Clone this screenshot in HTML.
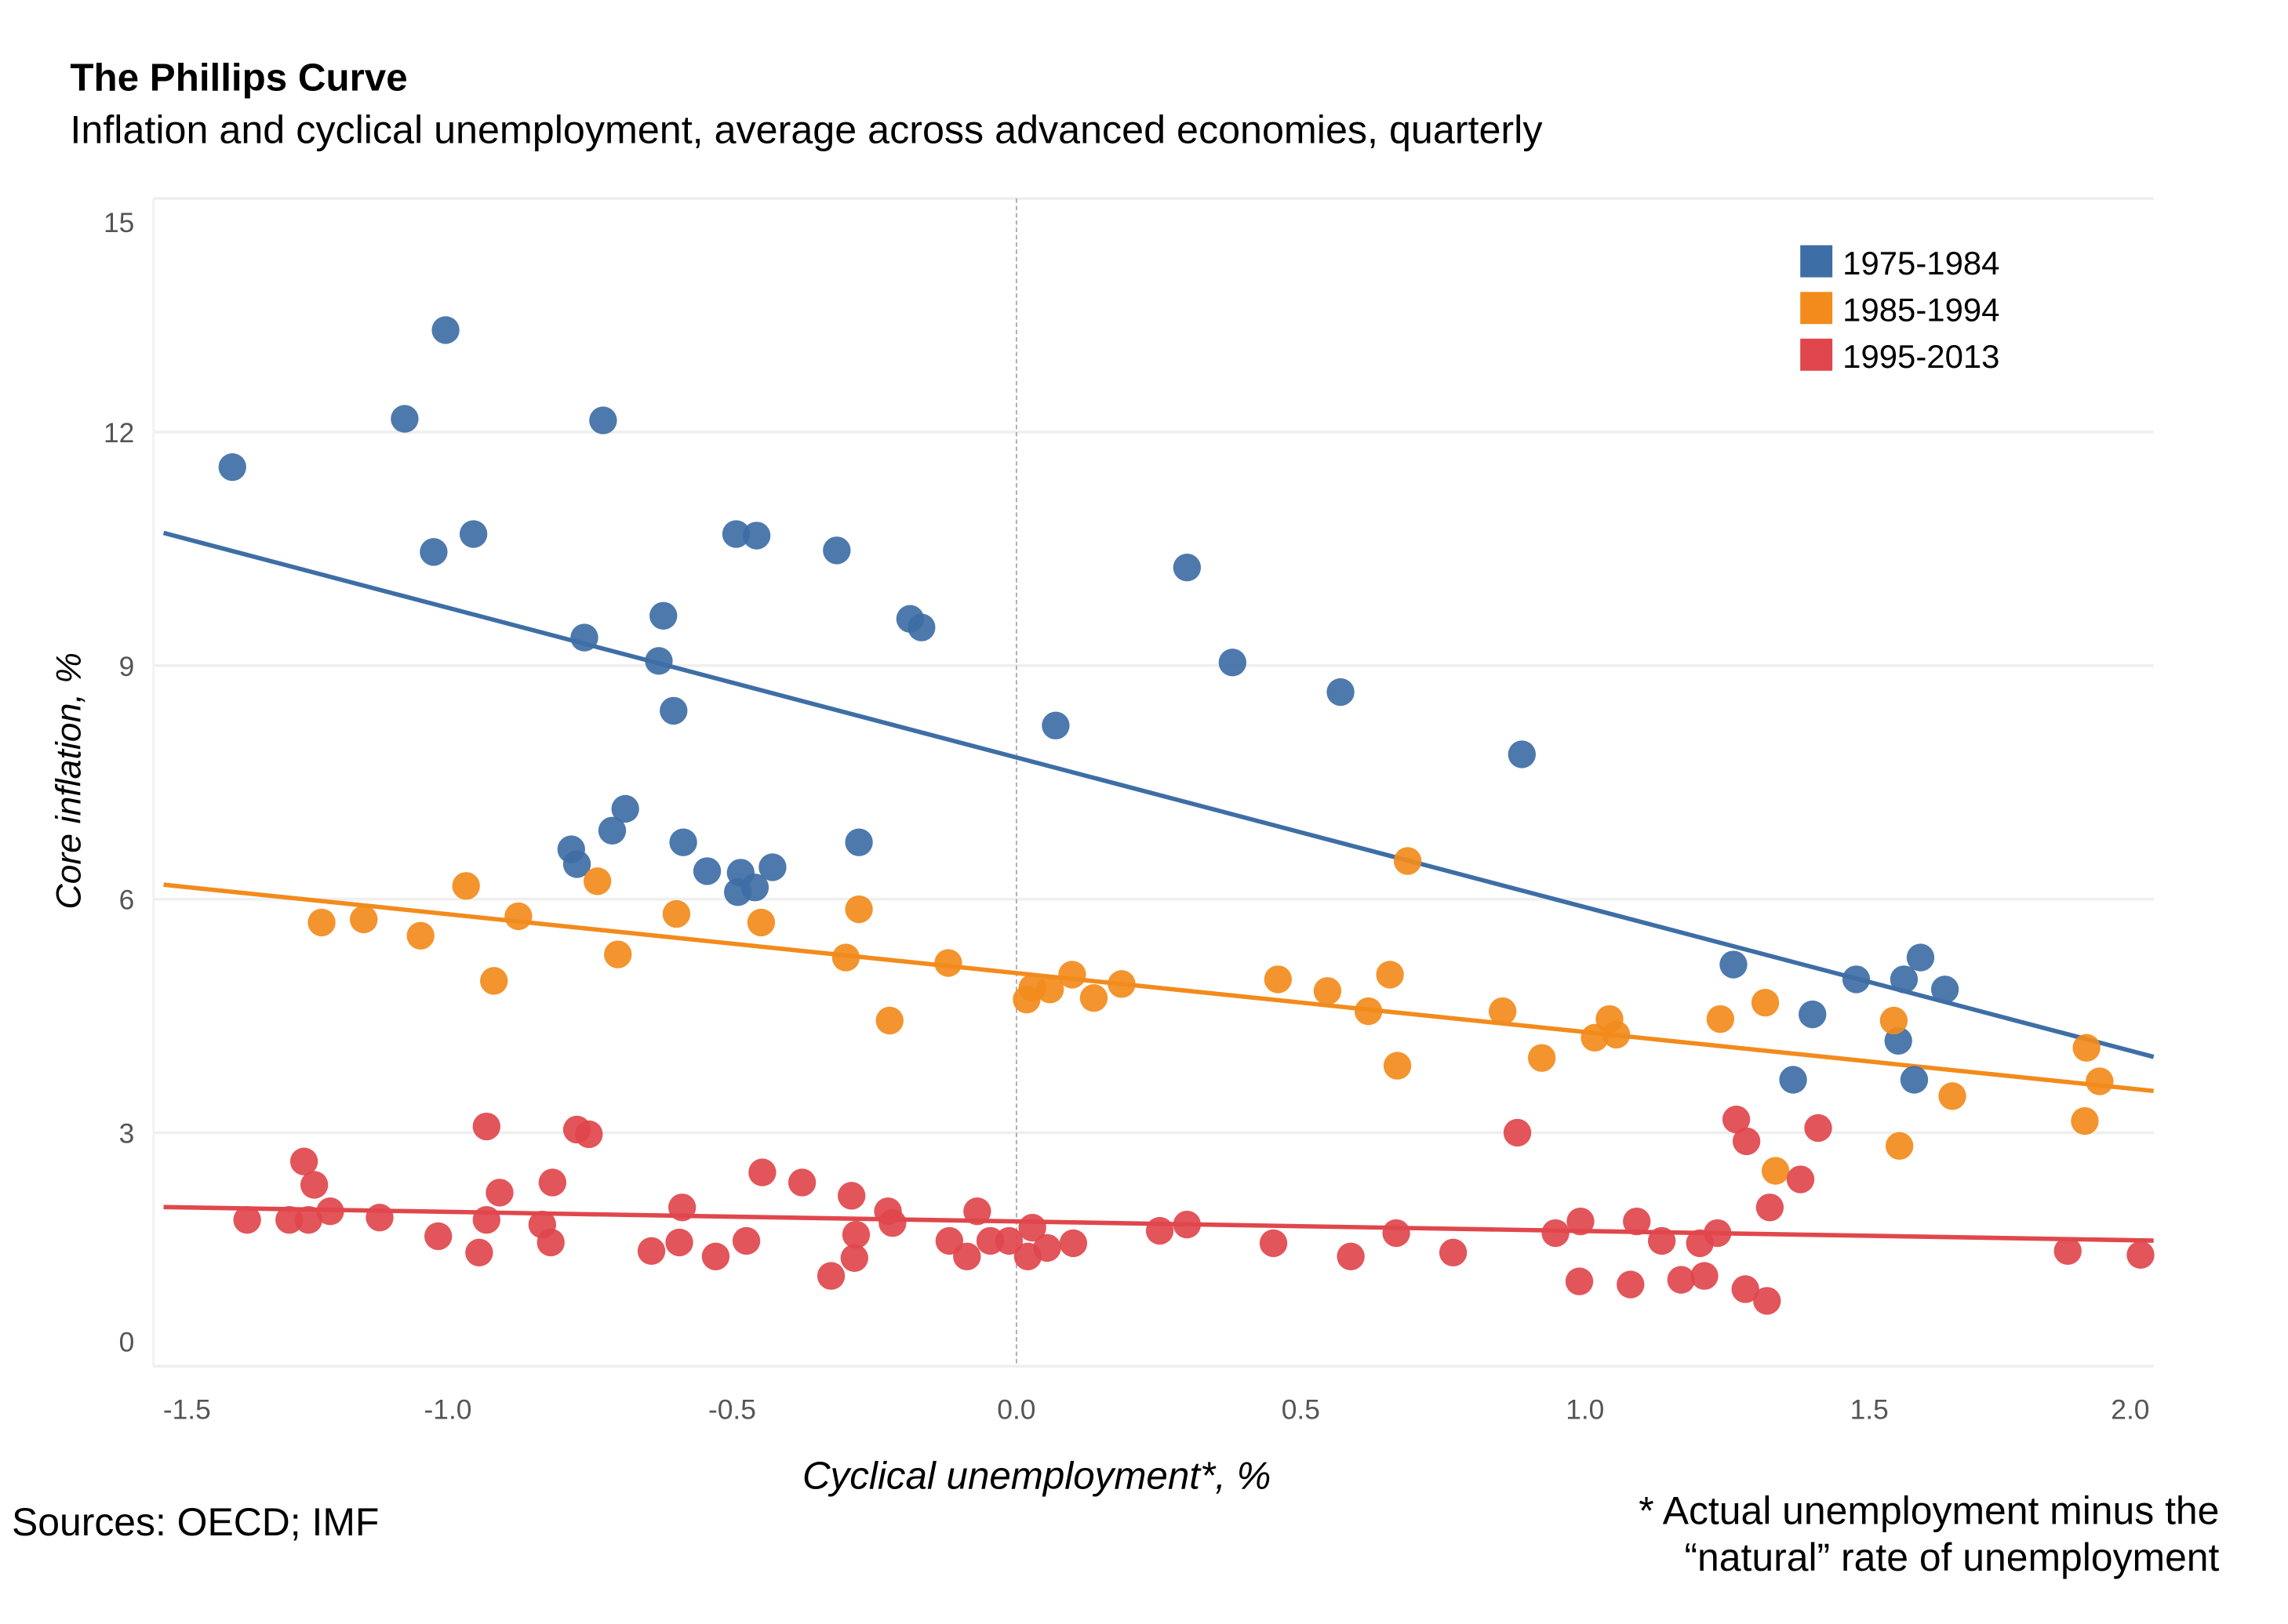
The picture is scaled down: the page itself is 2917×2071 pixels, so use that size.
<!DOCTYPE html>
<html><head><meta charset="utf-8">
<style>
html,body{margin:0;padding:0;background:#fff;}
svg{display:block;}
text{font-family:"Liberation Sans",sans-serif;}
</style></head>
<body>
<svg id="chart" width="2917" height="2071" viewBox="0 0 1567 1112.6" xmlns="http://www.w3.org/2000/svg">
  <rect x="0" y="0" width="1567" height="1112.6" fill="#fff"/>
  <text x="48" y="62" font-size="26.5" font-weight="bold" fill="#000">The Phillips Curve</text>
  <text x="48" y="98" font-size="27" fill="#000">Inflation and cyclical unemployment, average across advanced economies, quarterly</text>
  <g id="grid"></g>
  <g id="axes"></g>
  <g id="fits"></g>
  <g id="points"></g>
  <g id="legend"></g>
  <text x="55" y="535" font-size="24" font-style="italic" fill="#000" text-anchor="middle" transform="rotate(-90 55 535)">Core inflation, %</text>
  <text x="710" y="1020" font-size="26.5" font-style="italic" fill="#000" text-anchor="middle">Cyclical unemployment*, %</text>
  <text x="8" y="1052" font-size="26.8" fill="#000">Sources: OECD; IMF</text>
  <text x="1520" y="1044" font-size="26.8" fill="#000" text-anchor="end">* Actual unemployment minus the</text>
  <text x="1520" y="1076" font-size="26.8" fill="#000" text-anchor="end">“natural” rate of unemployment</text>
</svg>
<script>
const seriesNames = ["1975-1984","1985-1994","1995-2013"];
const seriesColors = ["#3e6ea6","#f28b1c","#e0474c"];
const xTicks = [-1.5,-1.0,-0.5,0.0,0.5,1.0,1.5,2.0];
const xTickLabels = ["-1.5","-1.0","-0.5","0.0","0.5","1.0","1.5","2.0"];
const yTicks = [0,3,6,9,12,15];
const yTickLabels = ["0","3","6","9","12","15"];
const fitSlopes = [-1.923,-0.757,-0.123];
const fitIntercepts = [7.82,5.05,1.86];
const blueX = [-1.379,-1.076,-1.004,-1.025,-0.955,-0.727,-0.760,-0.621,-0.629,-0.603,-0.493,-0.457,-0.316,-0.187,-0.167,-0.688,-0.711,-0.783,-0.773,-0.586,-0.544,-0.485,-0.490,-0.460,-0.429,-0.277,0.069,0.300,0.380,0.570,0.889,1.261,1.400,1.366,1.477,1.551,1.561,1.590,1.579,1.633];
const blueY = [11.55,12.17,13.31,10.46,10.69,12.15,9.36,9.64,9.06,8.42,10.69,10.67,10.48,9.60,9.49,7.16,6.88,6.64,6.45,6.73,6.36,6.34,6.09,6.15,6.41,6.73,8.23,10.26,9.04,8.66,7.86,5.16,4.52,3.68,4.97,4.18,4.97,5.25,3.68,4.84];
const orangeX = [-1.222,-1.148,-1.048,-0.968,-0.919,-0.876,-0.737,-0.701,-0.598,-0.449,-0.300,-0.277,-0.223,-0.120,0.018,0.028,0.059,0.098,0.136,0.185,0.460,0.547,0.619,0.657,0.670,0.688,0.855,0.924,1.017,1.043,1.055,1.238,1.317,1.335,1.543,1.553,1.646,1.882,1.879,1.905];
const orangeY = [5.70,5.74,5.53,6.17,4.95,5.78,6.23,5.29,5.81,5.70,5.25,5.87,4.44,5.18,4.71,4.86,4.84,5.03,4.73,4.91,4.97,4.82,4.56,5.03,3.86,6.49,4.56,3.96,4.22,4.46,4.26,4.46,4.67,2.51,4.44,2.83,3.47,4.09,3.15,3.66];
const redX = [-1.353,-1.253,-1.235,-1.279,-1.245,-1.207,-1.120,-1.017,-0.932,-0.932,-0.909,-0.945,-0.834,-0.819,-0.816,-0.773,-0.752,-0.642,-0.593,-0.588,-0.529,-0.475,-0.447,-0.377,-0.326,-0.290,-0.282,-0.285,-0.226,-0.218,-0.118,-0.087,-0.069,-0.046,-0.013,0.020,0.028,0.054,0.100,0.252,0.300,0.452,0.588,0.668,0.768,0.881,0.948,0.992,0.990,1.080,1.091,1.135,1.169,1.202,1.210,1.233,1.266,1.284,1.282,1.320,1.325,1.379,1.410,1.849,1.977];
const redY = [1.88,2.63,2.33,1.88,1.88,1.99,1.91,1.67,3.08,1.88,2.23,1.46,1.82,1.59,2.36,3.04,2.98,1.48,1.59,2.04,1.41,1.61,2.49,2.36,1.16,2.19,1.69,1.39,1.99,1.84,1.61,1.41,1.99,1.61,1.61,1.41,1.78,1.52,1.58,1.74,1.82,1.58,1.41,1.71,1.46,3.00,1.71,1.86,1.09,1.05,1.86,1.61,1.11,1.58,1.16,1.71,3.17,2.89,0.99,0.84,2.04,2.40,3.06,1.48,1.43];

const NS="http://www.w3.org/2000/svg";
const X0=-1.5,X1=2.0,Y0=0,Y1=15;
const PL=112,PR=1475,PT=136,PB=936;
function xs(v){return PL+(v-X0)/(X1-X0)*(PR-PL);}
function ys(v){return PB-(v-Y0)/(Y1-Y0)*(PB-PT);}
function mk(tag,attrs,parent){const e=document.createElementNS(NS,tag);for(const k in attrs)e.setAttribute(k,attrs[k]);parent.appendChild(e);return e;}

const grid=document.getElementById('grid');
yTicks.forEach((t,i)=>{
  const l=mk('line',{x1:105,x2:PR,y1:ys(t),y2:ys(t),stroke:'#efefef','stroke-width':2},grid);
  
  
});
const vl=mk('line',{x1:105,x2:105,y1:PT,y2:PB,stroke:'#f2f2f2','stroke-width':1.5},grid);


const zl=mk('line',{x1:xs(0),x2:xs(0),y1:PT,y2:PB,stroke:'#aaa','stroke-width':1,'stroke-dasharray':'3,2'},grid);



const axes=document.getElementById('axes');
yTicks.forEach((t,i)=>{
  let y=ys(t)+7;
  if(i===0)y=ys(t)-10;
  if(i===yTicks.length-1)y=ys(t)+23;
  const tx=mk('text',{x:92,y:y,'font-size':19,fill:'#555','text-anchor':'end'},axes);
  tx.textContent=yTickLabels[i];
  
  
});
xTicks.forEach((t,i)=>{
  let x=xs(t);
  if(i===0)x+=16;
  if(i===xTicks.length-1)x-=16;
  const tx=mk('text',{x:x,y:972,'font-size':19,fill:'#555','text-anchor':'middle'},axes);
  tx.textContent=xTickLabels[i];
  
  
});

const fits=document.getElementById('fits');
fitSlopes.forEach((s,i)=>{
  const b=fitIntercepts[i];
  const l=mk('line',{x1:xs(X0),y1:ys(b+s*X0),x2:xs(X1),y2:ys(b+s*X1),stroke:seriesColors[i],'stroke-width':3},fits);
  
  
});

const pts=document.getElementById('points');
const allX=[blueX,orangeX,redX],allY=[blueY,orangeY,redY];
allX.forEach((arr,si)=>{
  arr.forEach((v,j)=>{
    const c=mk('circle',{cx:xs(v),cy:ys(allY[si][j]),r:9.5,fill:seriesColors[si],'fill-opacity':0.92},pts);
    
    
  });
});

const lg=document.getElementById('legend');
seriesNames.forEach((n,i)=>{
  const y=168+i*32;
  const r=mk('rect',{x:1233,y:y,width:22,height:22,fill:seriesColors[i]},lg);
  
  
  const t=mk('text',{x:1262,y:y+20,'font-size':22.5,fill:'#000'},lg);
  t.textContent=n;
  
  
});
</script>
</body></html>
